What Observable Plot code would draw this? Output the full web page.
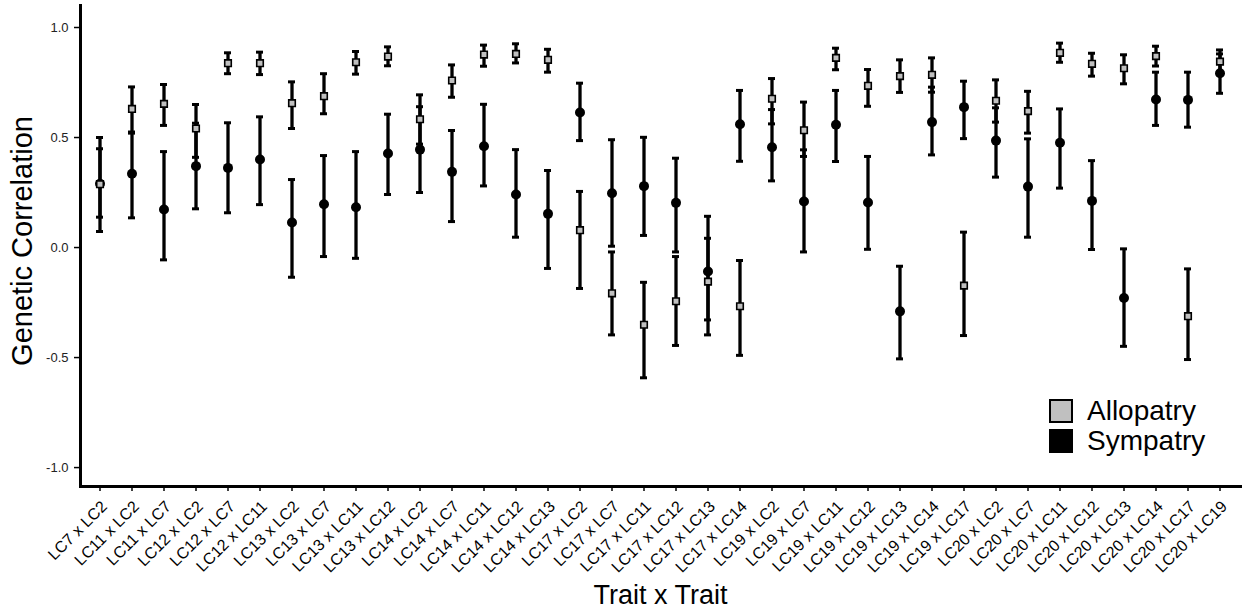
<!DOCTYPE html>
<html>
<head>
<meta charset="utf-8">
<script src="https://cdn.jsdelivr.net/npm/d3@7"></script>
<script src="https://cdn.jsdelivr.net/npm/@observablehq/plot@0.6"></script>
<style>
  html, body { margin: 0; padding: 0; background: #fff; }
  #wrap { position: relative; width: 1251px; height: 613px; font-family: "Liberation Sans", Arial, sans-serif; }
  #legend { position: absolute; left: 1049px; top: 399px; }
  .li { display: flex; align-items: center; height: 24px; margin-bottom: 6px; }
  .sw { width: 20px; height: 20px; border: 2px solid #000; margin-right: 14px; }
  .lt { font-size: 28px; line-height: 24px; color: #000; }
</style>
</head>
<body>
<div id="wrap"></div>
<script>
const categories = ["LC7 x LC2","LC11 x LC2","LC11 x LC7","LC12 x LC2","LC12 x LC7","LC12 x LC11","LC13 x LC2","LC13 x LC7","LC13 x LC11","LC13 x LC12","LC14 x LC2","LC14 x LC7","LC14 x LC11","LC14 x LC12","LC14 x LC13","LC17 x LC2","LC17 x LC7","LC17 x LC11","LC17 x LC12","LC17 x LC13","LC17 x LC14","LC19 x LC2","LC19 x LC7","LC19 x LC11","LC19 x LC12","LC19 x LC13","LC19 x LC14","LC19 x LC17","LC20 x LC2","LC20 x LC7","LC20 x LC11","LC20 x LC12","LC20 x LC13","LC20 x LC14","LC20 x LC17","LC20 x LC19"];

const alloEst = [0.288,0.63,0.653,0.541,0.838,0.838,0.656,0.688,0.842,0.868,0.583,0.759,0.877,0.88,0.853,0.079,-0.208,-0.351,-0.244,-0.155,-0.267,0.676,0.533,0.862,0.735,0.779,0.785,-0.173,0.667,0.62,0.885,0.835,0.815,0.87,-0.312,0.845];
const alloLo  = [0.138,0.52,0.555,0.41,0.79,0.786,0.541,0.608,0.788,0.826,0.47,0.683,0.824,0.839,0.797,-0.186,-0.397,-0.592,-0.445,-0.329,-0.49,0.562,0.414,0.808,0.642,0.705,0.706,-0.40,0.57,0.52,0.842,0.779,0.744,0.825,-0.509,0.79];
const alloHi  = [0.449,0.73,0.741,0.65,0.885,0.888,0.753,0.79,0.891,0.912,0.694,0.83,0.92,0.926,0.901,0.255,-0.02,-0.158,-0.041,0.042,-0.059,0.768,0.661,0.906,0.809,0.853,0.862,0.07,0.762,0.71,0.929,0.883,0.876,0.915,-0.097,0.898];

const symEst = [0.29,0.335,0.173,0.37,0.362,0.40,0.114,0.197,0.183,0.427,0.445,0.344,0.46,0.241,0.153,0.614,0.247,0.279,0.203,-0.109,0.56,0.456,0.209,0.558,0.205,-0.29,0.57,0.638,0.486,0.277,0.476,0.212,-0.229,0.673,0.671,0.792];
const symLo  = [0.073,0.135,-0.056,0.176,0.158,0.195,-0.135,-0.041,-0.049,0.241,0.25,0.118,0.28,0.047,-0.095,0.486,0.006,0.055,-0.02,-0.397,0.392,0.303,-0.02,0.391,-0.008,-0.506,0.421,0.495,0.32,0.047,0.27,-0.009,-0.449,0.555,0.547,0.701];
const symHi  = [0.50,0.525,0.436,0.565,0.567,0.594,0.309,0.418,0.436,0.606,0.64,0.532,0.651,0.445,0.35,0.747,0.49,0.501,0.406,0.142,0.714,0.627,0.444,0.714,0.414,-0.085,0.729,0.756,0.635,0.494,0.63,0.395,-0.006,0.797,0.797,0.88];

const yTicks = [-1, -0.5, 0, 0.5, 1];
const seriesNames = ["Allopatry", "Sympatry"];
const seriesFill = ["#c0c0c0", "#000000"];

const allo = categories.map((pair, i) => ({pair, est: alloEst[i], lo: alloLo[i], hi: alloHi[i]}));
const sym = categories.map((pair, i) => ({pair, est: symEst[i], lo: symLo[i], hi: symHi[i]}));

const chart = Plot.plot({
  width: 1251,
  height: 613,
  marginLeft: 80,
  marginRight: 11,
  marginTop: 5,
  marginBottom: 127,
  style: {fontFamily: "'Liberation Sans', Arial, sans-serif", background: "#fff", color: "#000"},
  x: {type: "band", domain: categories, paddingInner: 0.78, paddingOuter: 0.49, axis: null},
  y: {domain: [-1.086, 1.1], axis: null},
  marks: [
    Plot.axisY({ticks: yTicks, tickFormat: () => "", tickSize: 6, label: null, stroke: "#000", strokeWidth: 1.5}),
    Plot.text(yTicks, {y: d => d, text: d => d.toFixed(1), frameAnchor: "left", textAnchor: "end", lineAnchor: "middle", dx: -12, fontSize: 13, fill: "#222"}),
    Plot.axisX({tickSize: 5, tickFormat: () => "", label: null, stroke: "#000", strokeWidth: 1.5}),
    Plot.text(categories, {x: d => d, text: d => d, frameAnchor: "bottom", rotate: -45, textAnchor: "end", lineAnchor: "bottom", dx: 8, dy: 21, fontSize: 16, fill: "#000"}),
    Plot.frame({anchor: "left", stroke: "#000", strokeWidth: 3}),
    Plot.frame({anchor: "bottom", stroke: "#000", strokeWidth: 3}),
    Plot.text(["Genetic Correlation"], {text: d => d, frameAnchor: "left", textAnchor: "middle", lineAnchor: "middle", rotate: -90, dx: -58, dy: -5, fontSize: 29, fill: "#000"}),
    Plot.text(["Trait x Trait"], {text: d => d, frameAnchor: "bottom", textAnchor: "middle", lineAnchor: "middle", dy: 109, fontSize: 27, fill: "#000"}),
    Plot.ruleX(sym, {x: "pair", y1: "lo", y2: "hi", stroke: "#000", strokeWidth: 3.3}),
    Plot.ruleX(allo, {x: "pair", y1: "lo", y2: "hi", stroke: "#000", strokeWidth: 3.3}),
    Plot.tickY(sym, {x: "pair", y: "lo", stroke: "#000", strokeWidth: 3}),
    Plot.tickY(sym, {x: "pair", y: "hi", stroke: "#000", strokeWidth: 3}),
    Plot.tickY(allo, {x: "pair", y: "lo", stroke: "#000", strokeWidth: 3}),
    Plot.tickY(allo, {x: "pair", y: "hi", stroke: "#000", strokeWidth: 3}),
    Plot.dot(sym, {x: "pair", y: "est", r: 5, fill: seriesFill[1], stroke: "none"}),
    Plot.dot(allo, {x: "pair", y: "est", symbol: "square", r: 3.7, fill: seriesFill[0], stroke: "#000", strokeWidth: 1.6})
  ]
});

const wrap = document.getElementById("wrap");
wrap.appendChild(chart);

const legend = document.createElement("div");
legend.id = "legend";
seriesNames.forEach((name, i) => {
  const row = document.createElement("div");
  row.className = "li";
  const sw = document.createElement("div");
  sw.className = "sw";
  sw.style.background = seriesFill[i];
  const t = document.createElement("span");
  t.className = "lt";
  t.textContent = name;
  row.appendChild(sw);
  row.appendChild(t);
  legend.appendChild(row);
});
wrap.appendChild(legend);
</script>
</body>
</html>
